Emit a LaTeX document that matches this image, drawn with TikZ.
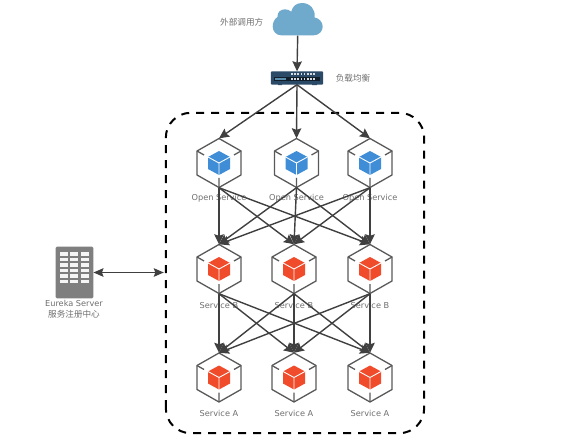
\documentclass[tikz,border=0pt]{standalone}
\usepackage{fontspec}
\setmainfont{DejaVu Sans}
\newfontfamily\cjk{Noto Sans CJK SC}
\usetikzlibrary{arrows.meta}
\definecolor{linec}{HTML}{404040}
\definecolor{hexc}{HTML}{595959}
\definecolor{textc}{HTML}{6E6E6E}
\definecolor{bluec}{HTML}{3E8DD6}
\definecolor{redc}{HTML}{F04B2A}
\definecolor{cloudc}{HTML}{6FA9CC}
\definecolor{navyc}{HTML}{2B4A68}
\definecolor{bldc}{HTML}{7F7F7F}
\tikzset{
  x=1pt,y=-1pt,
  lab/.style={text=textc,font=\fontsize{8.2}{10}\selectfont,inner sep=0pt,align=center},
  cjklab/.style={text=textc,font=\cjk\fontsize{8.6}{10}\selectfont,inner sep=0pt,align=center},
  svcbox/.style={minimum width=44pt,minimum height=49pt,inner sep=0pt},
  conn/.style={draw=linec,line width=1.4pt,-{Stealth[length=10pt,width=9.5pt,inset=1.5pt]}},
  conntwo/.style={draw=linec,line width=1.3pt,{Stealth[length=10pt,width=8.5pt,inset=1.5pt]}-{Stealth[length=10pt,width=8.5pt,inset=1.5pt]}},
  hexl/.style={draw=hexc,line width=1.3pt,line join=round},
  frame/.style={draw=black,line width=2pt,dash pattern=on 8pt off 7pt,rounded corners=25pt},
}
\newcommand{\svc}[6]{% name x y colour label-y text
  \node[svcbox] (#1) at (#2,#3) {};
  \begin{scope}[shift={(#2,#3)}]
    \draw[hexl] (0,-24.5)--(22,-12)--(22,12)--(0,24.5)--(-22,12)--(-22,-12)--cycle;
    \draw[hexl] (-22,-12)--(-15,-8) (22,-12)--(15,-8) (0,24.5)--(0,15);
    \fill[#4] (0,-12)--(11,-6)--(11,6)--(0,12)--(-11,6)--(-11,-6)--cycle;
    \draw[white,line width=0.9pt] (-11,-6)--(0,0)--(11,-6) (0,0)--(0,12);
  \end{scope}
  \node[lab] (#1lab) at (#2,#5) {#6};
}
\begin{document}
\begin{tikzpicture}
\useasboundingbox (0,0) rectangle (575,438);
% frame
\node[minimum width=258pt,minimum height=320pt,inner sep=0pt] (frm) at (295,273) {};
\draw[frame] (frm.south west) rectangle (frm.north east);
% cloud
\node[minimum width=50pt,minimum height=32pt,inner sep=0pt] (cloud) at (297.7,19.5) {};
\fill[cloudc] (281,35.3) .. controls (276,35.3) and (272.7,31) .. (272.7,26.5)
  .. controls (272.7,22) and (275,18.5) .. (277.5,17)
  .. controls (277,12) and (281,9.3) .. (285,9.3)
  .. controls (287.5,9.3) and (289.8,10.3) .. (291.2,11.7)
  .. controls (292.5,6) and (296.5,3) .. (302,3)
  .. controls (310,3) and (316,9.5) .. (314.5,17.5)
  .. controls (319,18) and (322.7,22) .. (322.7,26.7)
  .. controls (322.7,31.5) and (318.5,35.3) .. (314,35.3) -- cycle;
% switch
\node[minimum width=52pt,minimum height=13pt,inner sep=0pt] (lb) at (297,78) {};
\fill[navyc,rounded corners=1pt] (lb.north west) rectangle (lb.south east);
\fill[navyc] (278,84) rectangle (282,85.2) (312,84) rectangle (317,85.2);
\fill[black!60!navyc] (274,77) rectangle (320,81.5);
\fill[cloudc!70!navyc] (275,77.8) rectangle (286,79.8);
\foreach \i in {0,...,7}{
  \fill[white!80!navyc] ({291+\i*3.2},73) rectangle ({292.6+\i*3.2},75);
  \fill[white!80!navyc] ({291+\i*3.2},77.8) rectangle ({292.6+\i*3.2},79.8);
}
% building
\node[minimum width=37.5pt,minimum height=51.5pt,inner sep=0pt] (eureka) at (74.5,272.5) {};
\fill[bldc,rounded corners=1.5pt] (eureka.north west) rectangle (eureka.south east);
\foreach \r in {0,...,5}\foreach \c in {0,1,2}
  \fill[white!92!bldc] ({60+\c*10.4},{252.3+\r*5.5}) rectangle ({68+\c*10.4},{255.7+\r*5.5});
% labels
\node[cjklab] (tcall) at (241.7,22) {外部调用方};
\node[cjklab] (tlb) at (353,78) {负载均衡};
\node[lab] (teur) at (74,303) {Eureka Server};
\node[cjklab] (treg) at (74,314) {服务注册中心};
% services
\svc{o1}{219}{163}{bluec}{198.5}{Open Service}
\svc{o2}{296.5}{163}{bluec}{198.5}{Open Service}
\svc{o3}{370}{163}{bluec}{198.5}{Open Service}
\svc{b1}{219}{269}{redc}{305}{Service B}
\svc{b2}{294}{269}{redc}{305}{Service B}
\svc{b3}{370}{269}{redc}{305}{Service B}
\svc{a1}{219}{377.5}{redc}{413}{Service A}
\svc{a2}{294}{377.5}{redc}{413}{Service A}
\svc{a3}{370}{377.5}{redc}{413}{Service A}
% connectors
\draw[conn] (cloud.south) -- (lb.north);
\foreach \t in {o1,o2,o3} \draw[conn] (lb.south) -- (\t.north);
\foreach \s in {o1,o2,o3}\foreach \t in {b1,b2,b3} \draw[conn] (\s.south) -- (\t.north);
\foreach \s in {b1,b2,b3}\foreach \t in {a1,a2,a3} \draw[conn] (\s.south) -- (\t.north);
\coordinate (frmw) at (frm.west |- eureka.east);
\draw[conntwo] (eureka.east) -- ([xshift=-2pt]frmw);
\end{tikzpicture}
\end{document}
